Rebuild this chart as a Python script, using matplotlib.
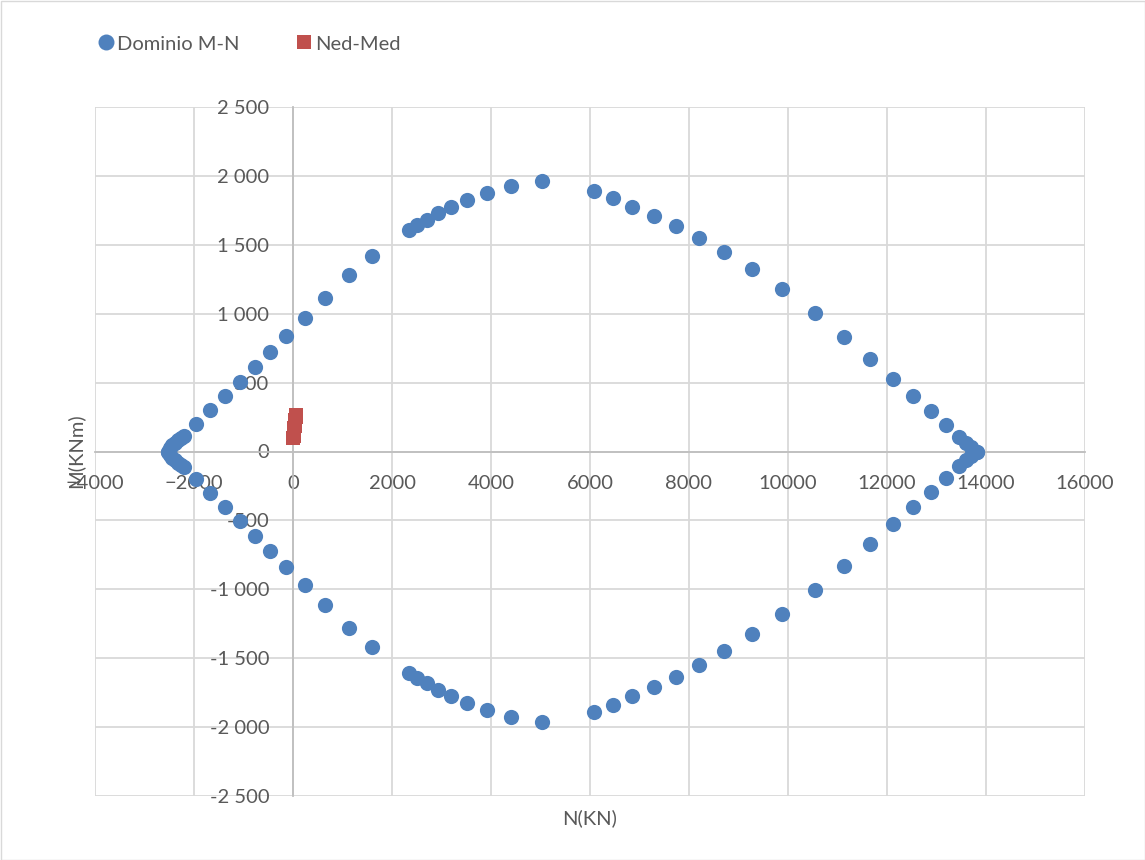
import matplotlib
matplotlib.use("Agg")
import matplotlib.pyplot as plt
from matplotlib.lines import Line2D
from matplotlib.patches import Rectangle
from matplotlib.ticker import FuncFormatter

plt.rcParams["font.family"] = ["Lato", "DejaVu Sans"]

# M-N interaction domain, traced left tip -> right tip
dom_n = [-2520, -2480, -2440, -2390, -2330, -2260, -2200, -1960, -1677, -1374,
         -1071, -768, -465, -141, 242, 646, 1131, 1596, 2343, 2505,
         2707, 2929, 3192, 3515, 3919, 4404, 5030, 6081, 6465, 6848,
         7293, 7737, 8202, 8707, 9273, 9879, 10545, 11131, 11657, 12121,
         12525, 12889, 13192, 13455, 13600, 13700, 13810]
dom_m_up = [0, 25, 45, 65, 80, 95, 110, 200, 301, 403,
            504, 613, 722, 838, 969, 1114, 1281, 1419, 1607, 1643,
            1680, 1731, 1774, 1825, 1876, 1927, 1963, 1890, 1840, 1774,
            1709, 1636, 1549, 1448, 1324, 1179, 1005, 831, 671, 526,
            403, 294, 192, 105, 65, 30, 0]
dom_m_low = [0, -25, -45, -65, -80, -95, -110, -200, -301, -403,
             -504, -613, -722, -838, -969, -1114, -1281, -1419, -1607, -1643,
             -1680, -1731, -1774, -1825, -1876, -1927, -1963, -1890, -1840, -1774,
             -1709, -1636, -1549, -1448, -1324, -1179, -1005, -831, -671, -526,
             -403, -294, -192, -105, -65, -30, 0]

# design actions
ned = [10, 14, 18, 22, 26, 30, 35, 40, 45, 50, 56, 62]
med = [100, 113, 127, 141, 155, 170, 184, 199, 214, 230, 247, 262]

BLUE = "#4F81BD"
RED = "#C0504D"
GRID = "#D9D9D9"
TXT = "#595959"

fig = plt.figure(figsize=(11.45, 8.6), dpi=100)
ax = fig.add_axes([95 / 1145, 1 - 796 / 860, 990 / 1145, 689 / 860])

ax.scatter(dom_n, dom_m_up, s=120, color=BLUE, marker="o", linewidths=0, zorder=3)
ax.scatter(dom_n, dom_m_low, s=120, color=BLUE, marker="o", linewidths=0, zorder=3)
ax.scatter(ned, med, s=90, color=RED, marker="s", linewidths=0, zorder=4)

ax.set_xlim(-4000, 16000)
ax.set_ylim(-2500, 2500)
ax.set_xticks(range(-4000, 16001, 2000))
ax.set_yticks(range(-2500, 2501, 500))
ax.yaxis.set_major_formatter(FuncFormatter(lambda v, p: f"{int(v):,}".replace(",", " ")))
ax.grid(True, color=GRID, linewidth=1.3, zorder=0)
ax.set_axisbelow(True)

for side in ("top", "right"):
    ax.spines[side].set_visible(False)
ax.spines["left"].set_position(("data", 0))
ax.spines["bottom"].set_position(("data", 0))
for side in ("left", "bottom"):
    ax.spines[side].set_color("#BFBFBF")
    ax.spines[side].set_linewidth(1.3)
ax.tick_params(axis="x", length=0, pad=17, labelsize=14.5, labelcolor=TXT)
ax.tick_params(axis="y", length=0, pad=17, labelsize=14.5, labelcolor=TXT)

fig.text(590 / 1145, 1 - 818 / 860, "N(KN)", ha="center", va="center",
         fontsize=14.5, color=TXT)
fig.text(75 / 1145, 1 - 451 / 860, "M(KNm)", ha="center", va="center",
         rotation=90, fontsize=14.5, color=TXT)

handles = [
    Line2D([], [], linestyle="none", marker="o", markersize=11.5,
           markerfacecolor=BLUE, markeredgewidth=0, label="Dominio M-N"),
    Line2D([], [], linestyle="none", marker="s", markersize=10,
           markerfacecolor=RED, markeredgewidth=0, label="Ned-Med"),
]
fig.legend(handles=handles, loc="center left",
           bbox_to_anchor=(98 / 1145, 1 - 44 / 860), ncol=2, frameon=False,
           fontsize=14.5, labelcolor=TXT, handlelength=0.8, handletextpad=0.15,
           columnspacing=2.8, borderaxespad=0, borderpad=0)

fig.patches.append(Rectangle((0.5 / 1145, 0.5 / 860), 1 - 1 / 1145, 1 - 1 / 860,
                             transform=fig.transFigure, fill=False,
                             edgecolor=GRID, linewidth=1))

fig.savefig("out.png", dpi=100)
